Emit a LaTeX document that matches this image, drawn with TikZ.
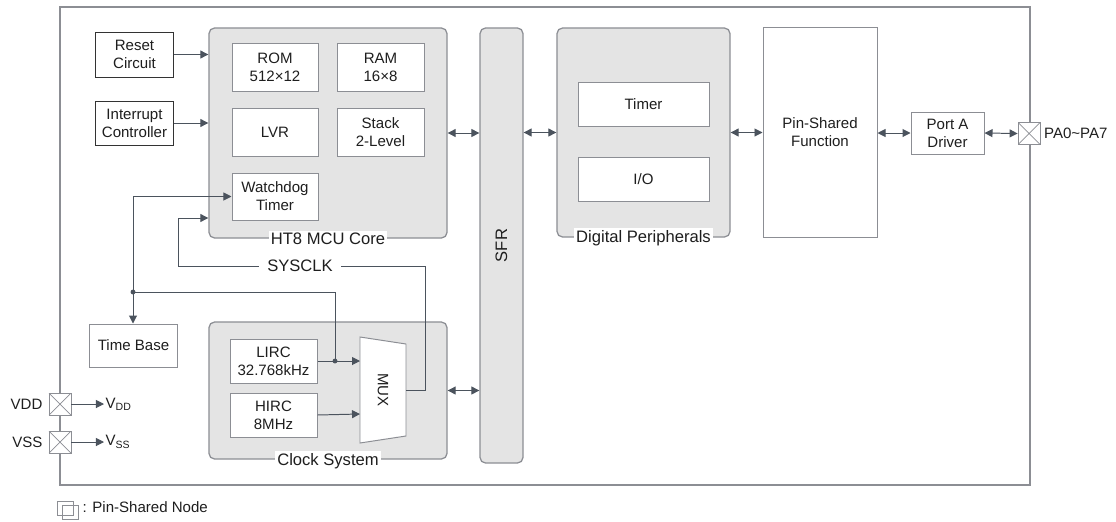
\documentclass[tikz,border=0pt]{standalone}
\usepackage{fontspec}
\setmainfont{Liberation Sans}
\usetikzlibrary{arrows.meta,positioning}
\definecolor{edgegray}{HTML}{8C8E94}
\definecolor{fillgray}{HTML}{E4E4E4}
\definecolor{arrowgray}{HTML}{4B535D}
\definecolor{textgray}{HTML}{1E1E1E}

\begin{document}
\begin{tikzpicture}[x=0.025cm, y=-0.025cm,
  every node/.style={font=\fontsize{10.7}{12.7}\selectfont, text=textgray, align=center},
  group/.style={draw=edgegray, fill=fillgray, line width=0.9pt, rounded corners=4pt, inner sep=0pt},
  blk/.style={draw=edgegray, fill=white, line width=0.7pt, inner sep=0pt},
  darkblk/.style={blk, draw=black!80},
  grouplabel/.style={fill=white, inner sep=1.5pt, font=\fontsize{11.8}{13}\selectfont},
  arr/.style={draw=arrowgray, line width=0.7pt, -{Triangle[length=2mm,width=2mm]}},
  darr/.style={arr, {Triangle[length=2mm,width=2mm]}-{Triangle[length=2mm,width=2mm]}},
  wire/.style={draw=arrowgray, line width=0.7pt},
  pinbox/.style={draw=edgegray, fill=white, line width=0.6pt, minimum size=0.55cm, inner sep=0pt,
    path picture={\draw[edgegray, line width=0.5pt]
      (path picture bounding box.south west) -- (path picture bounding box.north east)
      (path picture bounding box.north west) -- (path picture bounding box.south east);}},
  jdot/.style={circle, fill=arrowgray, inner sep=0pt, minimum size=3.5pt}
]
		%%%%% START %%%%%
		\useasboundingbox (0,0) rectangle (1116,521);
		
		\draw[edgegray, line width=1.4pt] (60,7) rectangle (1030,485);
		
		% groups
		\node[group, minimum width=5.95cm, minimum height=5.25cm] (core) at (328,133) {};
		\node[group, minimum width=5.95cm, minimum height=3.425cm] (clk) at (328,390.5) {};
		\node[group, minimum width=1.075cm, minimum height=10.875cm] (sfr) at (501.5,245.5) {};
		\node[rotate=90, font=\fontsize{11.8}{13}\selectfont] at (sfr) {SFR};
		\node[group, minimum width=4.325cm, minimum height=5.225cm] (dp) at (643.5,132.5) {};
		
		\node[grouplabel] at (328,239) {HT8 MCU Core};
		\node[grouplabel] at (328,461) {Clock System};
		\node[grouplabel] at (643.5,238) {Digital Peripherals};
		
		% blocks
		\node[darkblk, minimum width=1.925cm, minimum height=1.125cm] (reset) at (134.5,54.5) {Reset\\Circuit};
		\node[darkblk, minimum width=1.925cm, minimum height=1.1cm] (intr) at (134.5,123) {Interrupt\\Controller};
		\node[blk, minimum width=2.15cm, minimum height=1.2cm] (rom) at (275,67) {ROM\\512×12};
		\node[blk, minimum width=2.175cm, minimum height=1.2cm] (ram) at (380.5,67) {RAM\\16×8};
		\node[blk, minimum width=2.15cm, minimum height=1.2cm] (lvr) at (275,132) {LVR};
		\node[blk, minimum width=2.175cm, minimum height=1.2cm] (stack) at (380.5,132) {Stack\\2-Level};
		\node[blk, minimum width=2.15cm, minimum height=1.175cm] (wdt) at (275,196.5) {Watchdog\\Timer};
		\node[blk, minimum width=3.275cm, minimum height=1.1cm] (timer) at (643.5,104) {Timer};
		\node[blk, minimum width=3.275cm, minimum height=1.1cm] (io) at (643.5,179) {I/O};
		\node[blk, minimum width=2.85cm, minimum height=5.225cm] (psf) at (820,132.5) {Pin-Shared\\Function};
		\node[blk, minimum width=1.825cm, minimum height=1.05cm] (porta) at (947.5,133) {Port A\\Driver};
		\node[blk, minimum width=2.175cm, minimum height=1.075cm] (timebase) at (133.5,345.5) {Time Base};
		\node[blk, minimum width=2.175cm, minimum height=1.1cm] (lirc) at (273.5,361) {LIRC\\32.768kHz};
		\node[blk, minimum width=2.175cm, minimum height=1.1cm] (hirc) at (273.5,415) {HIRC\\8MHz};
		
		% mux
		\draw[blk] (360,337) -- (406,344) -- (406,436) -- (360,443) -- cycle;
		\node[rotate=-90] (mux) at (383,390) {MUX};
		\coordinate (muxin1) at (360,361);
		\coordinate (muxin2) at (360,414);
		\coordinate (muxout) at (406,390);
		
		% pins
		\node[pinbox] (vdd) at (60,404) {};
		\node[pinbox] (vss) at (60,442) {};
		\node[pinbox] (pa) at (1029,133.5) {};
		\node[left=0.3mm of vdd] {VDD};
		\node[left=0.3mm of vss] {VSS};
		\node[anchor=west, inner sep=1pt] (vddout) at (104,404) {V\textsubscript{DD}};
		\node[anchor=west, inner sep=1pt] (vssout) at (104,442) {V\textsubscript{SS}};
		\node[anchor=west, inner sep=2pt] (palbl) at (1041,133.5) {PA0\textasciitilde PA7};
		
		% connectors
		\draw[arr] (reset.east) -- (reset.east -| core.west);
		\draw[arr] (intr.east) -- (intr.east -| core.west);
		\draw[darr] (core.east) -- (core.east -| sfr.west);
		\draw[darr] (sfr.east |- dp.west) -- (dp.west);
		\draw[darr] (dp.east) -- (dp.east -| psf.west);
		\draw[darr] (psf.east |- porta.west) -- (porta.west);
		\draw[darr] (porta.east) -- (pa.west);
		\draw[darr] (clk.east) -- (clk.east -| sfr.west);
		\draw[arr] (lirc.east) -- (muxin1);
		\draw[arr] (hirc.east) -- (muxin2);
		\draw[arr] (vdd.east) -- (vddout.west);
		\draw[arr] (vss.east) -- (vssout.west);
		
		% sysclk
		\node[inner xsep=6pt, font=\fontsize{11.8}{13}\selectfont] (sysclk) at (300,266) {SYSCLK};
		\coordinate (sysin) at (178,218);
		\draw[wire] (muxout) -| (425,266) -- (sysclk.east);
		\draw[arr] (sysclk.west) -| (sysin) -- (sysin -| core.west);
		
		% lirc tap
		\coordinate (jn) at (133,292);
		\coordinate (tap) at (335,361);
		\draw[wire] (tap) |- (jn);
		\draw[arr] (jn) -- (jn |- timebase.north);
		\draw[arr] (jn) |- (wdt.west);
		\node[jdot] at (jn) {};
		\node[jdot] at (tap) {};
		
		% legend
		\draw[edgegray, line width=0.6pt] (57,501) rectangle (73,515);
		\draw[edgegray, line width=0.6pt] (62,505) rectangle (78,519);
		\node[anchor=west, inner sep=1pt] (legend) at (81,507) {: Pin-Shared Node};
		%%%%% END %%%%%
\end{tikzpicture}
\end{document}
